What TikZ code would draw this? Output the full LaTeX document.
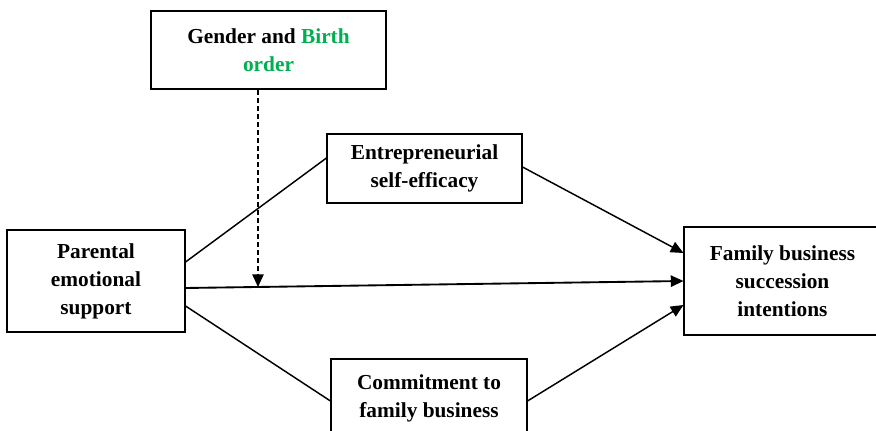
\documentclass[tikz,border=0pt]{standalone}
\usepackage{fontspec}
\setmainfont{Liberation Serif}
\usepackage{xcolor}
\usepackage{tikz}
\usetikzlibrary{positioning, arrows.meta, calc}

\definecolor{ordergreen}{HTML}{00B050}

\begin{document}
\begin{tikzpicture}[
    x=0.75pt, y=-0.75pt,
    box/.style={draw, rectangle, align=center, fill=white, line width=0.8pt, inner sep=0pt,
        font=\fontsize{16}{21}\selectfont\bfseries},
    link/.style={line width=1.1pt},
    arrow/.style={-{Triangle[length=9.5pt,width=8.5pt]}, line width=1.1pt}
]
\useasboundingbox (0,0) rectangle (876,431);

% --- COORDINATE GRID ---
\node[box, minimum width=176.25pt, minimum height=58.5pt] (gbo) at (268.5, 50)
    {Gender and \textcolor{ordergreen}{Birth}\\\textcolor{ordergreen}{order}};
\node[box, minimum width=146.25pt, minimum height=51.75pt] (ese) at (424.5, 168.5)
    {Entrepreneurial\\self-efficacy};
\node[box, minimum width=133.5pt, minimum height=76.5pt] (pes) at (96, 281)
    {Parental\\emotional\\support};
\node[box, minimum width=147.75pt, minimum height=81pt] (fbsi) at (782.5, 281)
    {Family business\\succession\\intentions};
\node[box, minimum width=147pt, minimum height=58.5pt] (cfb) at (429, 398)
    {Commitment to\\family business};

% --- PATHS ---
\draw[link] ($(pes.east)+(0,-19)$) -- ($(ese.west)+(0,-10.5)$);
\draw[arrow] ($(ese.east)+(0,-1.5)$) -- ($(fbsi.west)+(0,-28)$);
\draw[arrow, line width=1.4pt] ($(pes.east)+(0,7)$) -- (fbsi.west);
\draw[link] ($(pes.east)+(0,25)$) -- ($(cfb.west)+(0,3)$);
\draw[arrow] ($(cfb.east)+(0,3)$) -- ($(fbsi.west)+(0,24)$);

% --- MODERATOR ---
\coordinate (mod) at (258, 287);
\draw[arrow, dash pattern=on 4pt off 2pt] (gbo.south -| mod) -- (mod);
\end{tikzpicture}
\end{document}
